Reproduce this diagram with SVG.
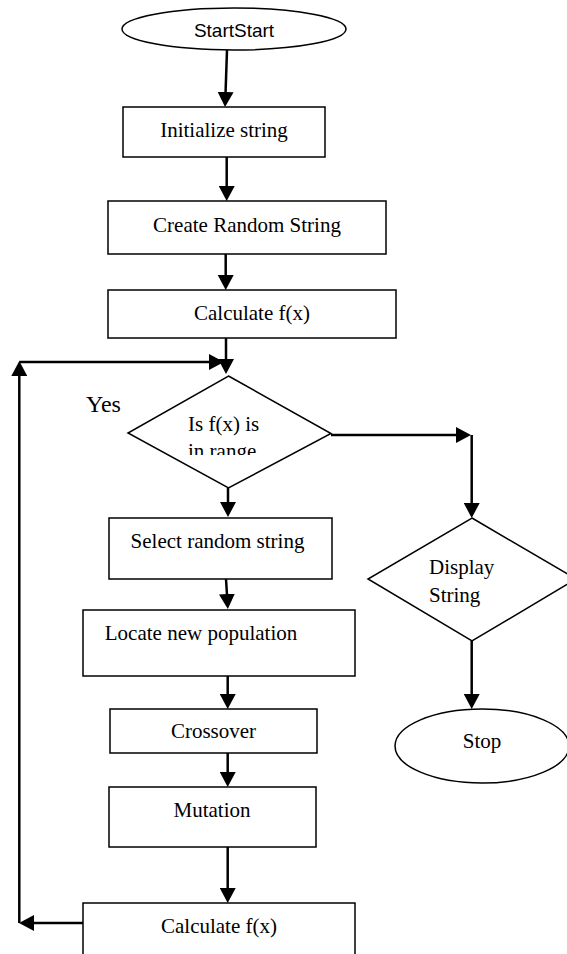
<svg xmlns="http://www.w3.org/2000/svg" width="567" height="954" viewBox="0 0 567 954">
  <style>
    .box { fill: #fff; stroke: #000; stroke-width: 1.5; }
    .conn { fill: none; stroke: #000; stroke-width: 2.5; marker-end: url(#arrow); }
    .plain { fill: none; stroke: #000; stroke-width: 2.5; }
    .t { font-family: "Liberation Serif", "Times New Roman", serif; font-size: 21px; fill: #000; }
    .tm { text-anchor: middle; }
    .s { font-family: "Liberation Sans", Arial, sans-serif; font-size: 19px; fill: #000; }
  </style>
  <defs>
    <marker id="arrow" viewBox="0 0 15 16" markerWidth="15" markerHeight="16" refX="11" refY="8" orient="auto" markerUnits="userSpaceOnUse">
      <path d="M0,0 L15,8 L0,16 z" fill="#000"/>
    </marker>
    <clipPath id="clipRange">
      <rect x="0" y="0" width="567" height="455"/>
    </clipPath>
  </defs>
  <rect width="567" height="954" fill="#fff"/>

  <g id="connectors">
    <line class="conn" x1="227" y1="50" x2="225.2" y2="103"/>
    <line class="conn" x1="226.7" y1="157" x2="226.7" y2="197"/>
    <line class="conn" x1="225.7" y1="254" x2="225.7" y2="286"/>
    <line class="conn" x1="226" y1="338" x2="226" y2="370"/>
    <line class="conn" x1="83" y1="923" x2="23" y2="923"/>
    <line class="conn" x1="19.3" y1="923" x2="19.3" y2="365"/>
    <line class="conn" x1="19.3" y1="362" x2="220" y2="362"/>
    <line class="conn" x1="331" y1="435" x2="467" y2="435"/>
    <line class="conn" x1="471.7" y1="435" x2="471.7" y2="514"/>
    <line class="conn" x1="228" y1="488" x2="228" y2="513"/>
    <line class="conn" x1="226" y1="579" x2="227.6" y2="605"/>
    <line class="conn" x1="227.7" y1="676" x2="227.7" y2="705"/>
    <line class="conn" x1="227.7" y1="749" x2="227.7" y2="783"/>
    <line class="conn" x1="227.7" y1="847" x2="227.7" y2="899"/>
    <line class="conn" x1="471.7" y1="641" x2="471.7" y2="705"/>
  </g>

  <g id="start">
    <ellipse class="box" cx="234" cy="29" rx="112" ry="21"/>
    <text class="s tm" x="234" y="37">StartStart</text>
  </g>
  <g id="init">
    <rect class="box" x="123" y="107" width="202" height="50"/>
    <text class="t tm" x="224" y="137">Initialize string</text>
  </g>
  <g id="create">
    <rect class="box" x="108" y="201" width="278" height="53"/>
    <text class="t tm" x="247" y="232">Create Random String</text>
  </g>
  <g id="calc1">
    <rect class="box" x="108" y="290" width="288" height="48"/>
    <text class="t tm" x="252" y="320">Calculate f(x)</text>
  </g>
  <g id="yes-label">
    <text class="t" x="86" y="412" style="font-size:24px">Yes</text>
  </g>
  <g id="decision">
    <polygon class="box" points="228.5,376 331,433.5 228.5,488 128,433"/>
    <text class="t" x="188" y="431">Is f(x) is</text>
    <text class="t" x="188" y="458" clip-path="url(#clipRange)">in range</text>
  </g>
  <g id="select">
    <rect class="box" x="109" y="518" width="223" height="61"/>
    <text class="t tm" x="217.5" y="548">Select random string</text>
  </g>
  <g id="locate">
    <rect class="box" x="83" y="610" width="272" height="66"/>
    <text class="t tm" x="201" y="640">Locate new population</text>
  </g>
  <g id="crossover">
    <rect class="box" x="110" y="709" width="207" height="44"/>
    <text class="t tm" x="213.5" y="738">Crossover</text>
  </g>
  <g id="mutation">
    <rect class="box" x="109" y="787" width="207" height="60"/>
    <text class="t tm" x="212" y="817">Mutation</text>
  </g>
  <g id="calc2">
    <rect class="box" x="83" y="903" width="272" height="70"/>
    <text class="t tm" x="219" y="933">Calculate f(x)</text>
  </g>
  <g id="display">
    <polygon class="box" points="472,518 576,579 472,641 368,579"/>
    <text class="t" x="429" y="574">Display</text>
    <text class="t" x="429" y="602">String</text>
  </g>
  <g id="stop">
    <ellipse class="box" cx="482" cy="746" rx="87" ry="37"/>
    <text class="t tm" x="482" y="748">Stop</text>
  </g>
</svg>
